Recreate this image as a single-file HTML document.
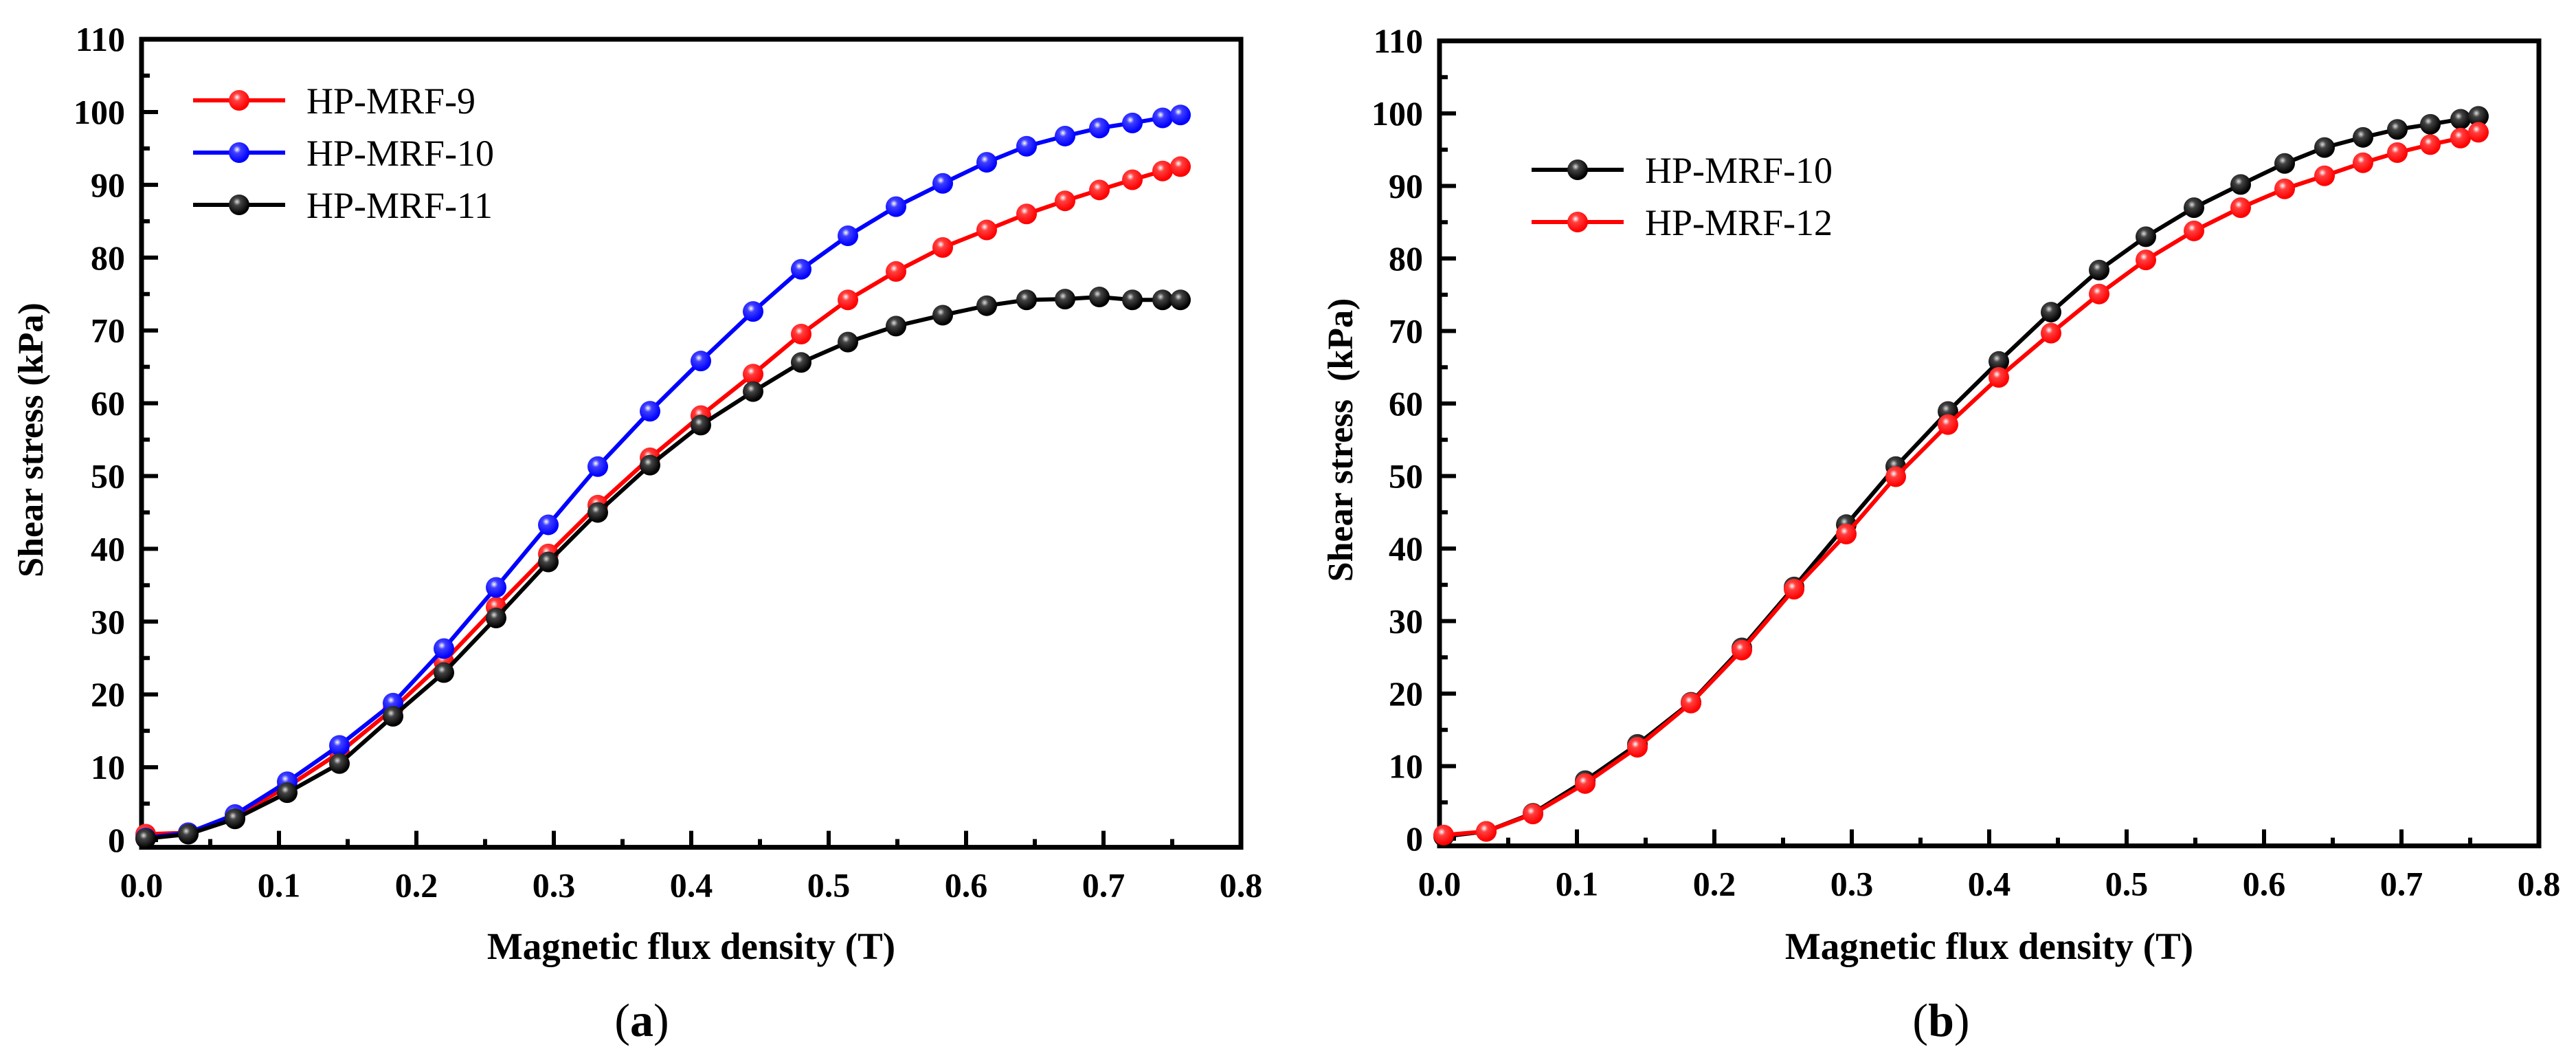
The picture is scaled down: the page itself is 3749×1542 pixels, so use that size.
<!DOCTYPE html>
<html><head><meta charset="utf-8"><style>
html,body{margin:0;padding:0;background:#fff;}
svg{display:block;font-family:"Liberation Serif",serif;}
</style></head><body>
<svg id="fig" width="3749" height="1542" viewBox="0 0 3749 1542" xmlns="http://www.w3.org/2000/svg">
<defs>
<radialGradient id="gR" cx="0.4" cy="0.35" r="0.6"><stop offset="0" stop-color="#fff"/><stop offset="0.3" stop-color="#ff4040"/><stop offset="1" stop-color="#f00"/></radialGradient>
<radialGradient id="gB" cx="0.4" cy="0.35" r="0.6"><stop offset="0" stop-color="#fff"/><stop offset="0.3" stop-color="#4040ff"/><stop offset="1" stop-color="#00f"/></radialGradient>
<radialGradient id="gK" cx="0.4" cy="0.35" r="0.6"><stop offset="0" stop-color="#ddd"/><stop offset="0.3" stop-color="#444"/><stop offset="1" stop-color="#000"/></radialGradient>
</defs>
</svg>
<script>
const xVals = [0.003,0.034,0.068,0.106,0.144,0.183,0.220,0.258,0.296,0.332,0.370,0.407,0.445,0.480,0.514,0.549,0.583,0.615,0.644,0.672,0.697,0.721,0.743,0.756];
const mrf9  = [0.8,1,3.3,7.3,12,18,24.5,32,39.3,46,52.5,58.3,64,69.5,74.2,78.1,81.4,83.8,86,87.8,89.3,90.7,91.9,92.5];
const mrf10 = [0.3,1,3.5,8,13,18.8,26.3,34.7,43.3,51.3,58.9,65.8,72.6,78.4,83,87,90.2,93.1,95.3,96.7,97.8,98.5,99.2,99.6];
const mrf11 = [0.2,0.8,2.9,6.5,10.5,17,23,30.5,38.2,45,51.5,57,61.6,65.6,68.4,70.6,72.1,73.4,74.2,74.3,74.6,74.2,74.2,74.2];
const mrf12 = [0.5,1,3.4,7.6,12.6,18.7,26,34.4,42,49.9,57.1,63.6,69.7,75.1,79.8,83.8,87,89.6,91.4,93.2,94.6,95.7,96.6,97.4];
const xTicks = ["0.0","0.1","0.2","0.3","0.4","0.5","0.6","0.7","0.8"];
const yTicks = ["0","10","20","30","40","50","60","70","80","90","100","110"];

const NS = "http://www.w3.org/2000/svg";
const svg = document.getElementById('fig');
function mk(tag, attrs, parent){const e=document.createElementNS(NS,tag);for(const k in attrs)e.setAttribute(k,attrs[k]);(parent||svg).appendChild(e);return e;}

function panel(p){
  const g = mk('g',{});
  
  
  const X = v => p.x0 + v*2000;
  const Y = v => p.y0 - v*p.ky;
  const left=X(0), right=X(0.8), top=Y(110), bottom=Y(-1);
  for(let i=0;i<=16;i++){
    const v=i*0.05, major=i%2===0, len=major?24:12;
    const t=mk('line',{x1:X(v),x2:X(v),y1:bottom,y2:bottom-len,stroke:'#000','stroke-width':6},g);
    
    
  }
  xTicks.forEach((s,i)=>{
    const t=mk('text',{x:X(i*0.1),y:bottom+72,'text-anchor':'middle','font-size':50,'font-weight':'bold'},g);
    t.textContent=s;
    
    
  });
  for(let i=0;i<=22;i++){
    const v=i*5, major=i%2===0, len=major?24:12;
    const t=mk('line',{x1:left,x2:left+len,y1:Y(v),y2:Y(v),stroke:'#000','stroke-width':6},g);
    
    
  }
  yTicks.forEach((s,i)=>{
    const t=mk('text',{x:left-24,y:Y(i*10)+17,'text-anchor':'end','font-size':50,'font-weight':'bold'},g);
    t.textContent=s;
    
    
  });
  const fr=mk('rect',{x:left,y:top,width:right-left,height:bottom-top,fill:'none',stroke:'#000','stroke-width':7},g);
  
  
  p.series.forEach((s,si)=>{
    const sg=mk('g',{},g);
    
    
    const pts=xVals.map((x,i)=>X(x)+','+Y(s.data[i])).join(' ');
    const pl=mk('polyline',{points:pts,fill:'none',stroke:s.color,'stroke-width':6},sg);
    
    
    xVals.forEach((x,i)=>{
      const c=mk('circle',{cx:X(x),cy:Y(s.data[i]),r:15,fill:'url(#'+s.grad+')'},sg);
      
      
    });
    const ly=p.legY+si*76;
    const lg=mk('g',{},g);
    
    
    mk('line',{x1:p.legX,x2:p.legX+134,y1:ly,y2:ly,stroke:s.color,'stroke-width':6},lg);
    mk('circle',{cx:p.legX+67,cy:ly,r:15,fill:'url(#'+s.grad+')'},lg);
    const lt=mk('text',{x:p.legX+165,y:ly+19,'font-size':54},lg);
    lt.textContent=s.label;
  });
  const xt=mk('text',{x:(left+right)/2,y:1395,'text-anchor':'middle','font-size':55,'font-weight':'bold'},g);
  xt.textContent='Magnetic flux density (T)';
  
  
  const yt=mk('text',{x:0,y:0,'text-anchor':'middle','font-size':52,'font-weight':'bold','transform':'translate('+p.ytX+',640) rotate(-90)'},g);
  yt.textContent=p.ytitle;
  
  
  const cap=mk('text',{x:p.capX,y:1507,'text-anchor':'middle','font-size':68},g);
  
  
  const t1=mk('tspan',{},cap); t1.textContent='(';
  const t2=mk('tspan',{'font-weight':'bold'},cap); t2.textContent=p.cap;
  const t3=mk('tspan',{},cap); t3.textContent=')';
}
panel({name:'panel-a',x0:206,y0:1222,ky:10.59,legX:281,legY:146,ytX:62,ytitle:'Shear stress (kPa)',capX:934,cap:'a',
  series:[{label:'HP-MRF-9',color:'#f00',grad:'gR',data:mrf9},{label:'HP-MRF-10',color:'#00f',grad:'gB',data:mrf10},{label:'HP-MRF-11',color:'#000',grad:'gK',data:mrf11}]});
panel({name:'panel-b',x0:2095,y0:1220,ky:10.55,legX:2229,legY:247,ytX:1968,ytitle:'Shear stress\u00a0\u00a0(kPa)',capX:2825,cap:'b',
  series:[{label:'HP-MRF-10',color:'#000',grad:'gK',data:mrf10},{label:'HP-MRF-12',color:'#f00',grad:'gR',data:mrf12}]});
</script>
</body></html>
